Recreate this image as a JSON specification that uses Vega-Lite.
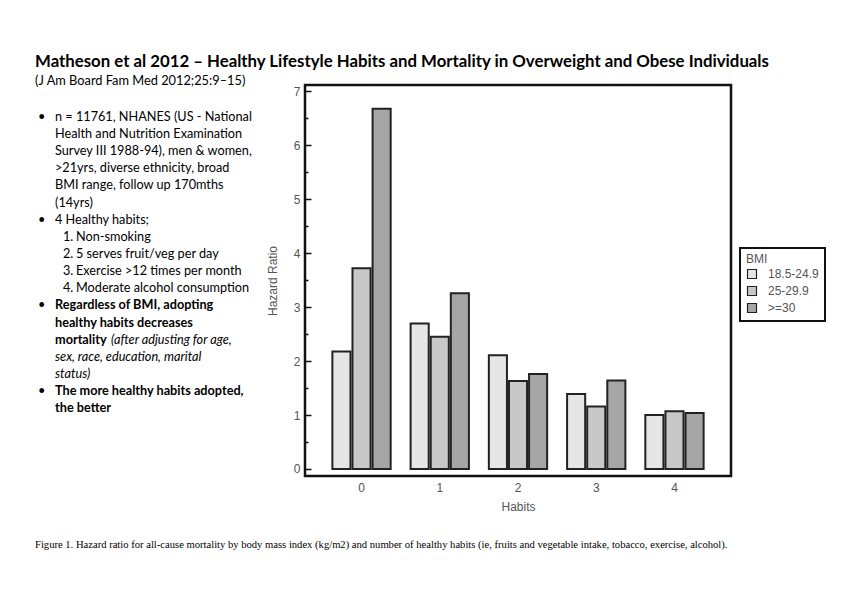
{
  "$schema": "https://vega.github.io/schema/vega-lite/v6.json",
  "background": "white",
  "padding": {"left": 35, "top": 54, "right": 5, "bottom": 5},
  "title": {
    "text": "Matheson et al 2012 – Healthy Lifestyle Habits and Mortality in Overweight and Obese Individuals",
    "subtitle": "(J Am Board Fam Med 2012;25:9–15)",
    "anchor": "start",
    "frame": "group",
    "font": "Lato",
    "fontSize": 16.8,
    "fontWeight": "bold",
    "color": "black",
    "subtitleFont": "Lato",
    "subtitleFontSize": 12.8,
    "subtitleColor": "black",
    "subtitlePadding": 4,
    "offset": -4
  },
  "config": {
    "view": {"stroke": "#111", "strokeWidth": 2.5},
    "axis": {"labelFont": "Liberation Sans", "titleFont": "Liberation Sans", "labelColor": "#555", "titleColor": "#555", "labelFontSize": 12, "titleFontSize": 12, "titleFontWeight": "normal", "grid": false},
    "legend": {"strokeWidth": 2},
    "concat": {"spacing": 0}
  },
  "vconcat": [
    {
      "title": {
        "text": "Figure 1. Hazard ratio for all-cause mortality by body mass index (kg/m2) and number of healthy habits (ie, fruits and vegetable intake, tobacco, exercise, alcohol).",
        "orient": "bottom",
        "anchor": "start",
        "font": "Liberation Serif",
        "fontSize": 10.6,
        "fontWeight": "normal",
        "color": "black",
        "offset": 27
      },
      "spacing": 0,
      "hconcat": [
        {
          "width": 230,
          "height": 391,
          "view": {"stroke": null},
          "data": {"values": [
            {"line": 1, "indent": 0.3, "kind": "normal", "text": "•"},
            {"line": 1, "indent": 2.0, "kind": "normal", "text": "n = 11761, NHANES (US - National"},
            {"line": 2, "indent": 2.0, "kind": "normal", "text": "Health and Nutrition Examination"},
            {"line": 3, "indent": 2.0, "kind": "normal", "text": "Survey III 1988-94), men & women,"},
            {"line": 4, "indent": 2.0, "kind": "normal", "text": ">21yrs, diverse ethnicity, broad"},
            {"line": 5, "indent": 2.0, "kind": "normal", "text": "BMI range, follow up 170mths"},
            {"line": 6, "indent": 2.0, "kind": "normal", "text": "(14yrs)"},
            {"line": 7, "indent": 0.3, "kind": "normal", "text": "•"},
            {"line": 7, "indent": 2.0, "kind": "normal", "text": "4 Healthy habits;"},
            {"line": 8, "indent": 2.8, "kind": "normal", "text": "1."},
            {"line": 8, "indent": 4.1, "kind": "normal", "text": "Non-smoking"},
            {"line": 9, "indent": 2.8, "kind": "normal", "text": "2."},
            {"line": 9, "indent": 4.1, "kind": "normal", "text": "5 serves fruit/veg per day"},
            {"line": 10, "indent": 2.8, "kind": "normal", "text": "3."},
            {"line": 10, "indent": 4.1, "kind": "normal", "text": "Exercise >12 times per month"},
            {"line": 11, "indent": 2.8, "kind": "normal", "text": "4."},
            {"line": 11, "indent": 4.1, "kind": "normal", "text": "Moderate alcohol consumption"},
            {"line": 12, "indent": 0.3, "kind": "normal", "text": "•"},
            {"line": 12, "indent": 2.0, "kind": "bold", "text": "Regardless of BMI, adopting"},
            {"line": 13, "indent": 2.0, "kind": "bold", "text": "healthy habits decreases"},
            {"line": 14, "indent": 2.0, "kind": "bold", "text": "mortality"},
            {"line": 14, "indent": 7.6, "kind": "italic", "text": "(after adjusting for age,"},
            {"line": 15, "indent": 2.0, "kind": "italic", "text": "sex, race, education, marital"},
            {"line": 16, "indent": 2.0, "kind": "italic", "text": "status)"},
            {"line": 17, "indent": 0.3, "kind": "normal", "text": "•"},
            {"line": 17, "indent": 2.0, "kind": "bold", "text": "The more healthy habits adopted,"},
            {"line": 18, "indent": 2.0, "kind": "bold", "text": "the better"}
          ]},
          "encoding": {
            "x": {"field": "indent", "type": "quantitative", "scale": {"domain": [0, 23], "nice": false, "zero": false}, "axis": null},
            "y": {"field": "line", "type": "quantitative", "scale": {"domain": [-0.85, 21.94], "nice": false, "zero": false, "reverse": true}, "axis": null},
            "text": {"field": "text", "type": "nominal"}
          },
          "layer": [
            {"transform": [{"filter": "datum.kind === 'normal'"}], "mark": {"type": "text", "align": "left", "baseline": "middle", "font": "Lato", "fontSize": 12.7, "color": "black"}},
            {"transform": [{"filter": "datum.kind === 'bold'"}], "mark": {"type": "text", "align": "left", "baseline": "middle", "font": "Lato", "fontSize": 12.7, "fontWeight": "bold", "color": "black"}},
            {"transform": [{"filter": "datum.kind === 'italic'"}], "mark": {"type": "text", "align": "left", "baseline": "middle", "font": "Lato", "fontSize": 12.7, "fontStyle": "italic", "color": "black"}}
          ]
        },
        {
          "width": 426,
          "height": 391,
          "data": {"values": [
            {"Habits": 0, "BMI": "18.5-24.9", "HR": 2.18},
            {"Habits": 0, "BMI": "25-29.9", "HR": 3.72},
            {"Habits": 0, "BMI": ">=30", "HR": 6.68},
            {"Habits": 1, "BMI": "18.5-24.9", "HR": 2.70},
            {"Habits": 1, "BMI": "25-29.9", "HR": 2.45},
            {"Habits": 1, "BMI": ">=30", "HR": 3.26},
            {"Habits": 2, "BMI": "18.5-24.9", "HR": 2.11},
            {"Habits": 2, "BMI": "25-29.9", "HR": 1.63},
            {"Habits": 2, "BMI": ">=30", "HR": 1.76},
            {"Habits": 3, "BMI": "18.5-24.9", "HR": 1.39},
            {"Habits": 3, "BMI": "25-29.9", "HR": 1.16},
            {"Habits": 3, "BMI": ">=30", "HR": 1.64},
            {"Habits": 4, "BMI": "18.5-24.9", "HR": 1.00},
            {"Habits": 4, "BMI": "25-29.9", "HR": 1.07},
            {"Habits": 4, "BMI": ">=30", "HR": 1.04}
          ]},
          "mark": {"type": "bar", "stroke": "#222", "strokeWidth": 2},
          "encoding": {
            "x": {"field": "Habits", "type": "ordinal", "scale": {"paddingInner": 0.255, "paddingOuter": 0.35},
                  "axis": {"labelAngle": 0, "ticks": false, "domain": false, "title": "Habits", "labelPadding": 6, "titlePadding": 8}},
            "xOffset": {"field": "BMI", "type": "nominal", "sort": ["18.5-24.9", "25-29.9", ">=30"], "scale": {"paddingInner": 0.1}},
            "y": {"field": "HR", "type": "quantitative", "scale": {"domain": [-0.13, 7.12], "nice": false, "zero": false},
                  "axis": {"title": "Hazard Ratio", "domain": false,
                           "values": [0, 0.5, 1, 1.5, 2, 2.5, 3, 3.5, 4, 4.5, 5, 5.5, 6, 6.5, 7],
                           "labelExpr": "datum.value % 1 === 0 ? format(datum.value, 'd') : ''",
                           "tickColor": "#111", "tickWidth": 1.5,
                           "tickSize": {"condition": {"test": "datum.value % 1 === 0", "value": -6}, "value": -3},
                           "labelPadding": 11, "titlePadding": 14}},
            "fill": {"field": "BMI", "type": "nominal", "sort": ["18.5-24.9", "25-29.9", ">=30"],
                     "scale": {"domain": ["18.5-24.9", "25-29.9", ">=30"], "range": ["#e6e6e6", "#c8c8c8", "#a6a6a6"]},
                     "legend": {"orient": "none", "legendX": 705, "legendY": 163, "title": "BMI",
                                "titleFont": "Liberation Sans", "titleFontWeight": "normal", "titleFontSize": 12, "titleColor": "#555",
                                "labelFont": "Liberation Sans", "labelFontSize": 12, "labelColor": "#555",
                                "symbolType": "square", "symbolSize": 81, "symbolStrokeColor": "#222", "symbolStrokeWidth": 1.2,
                                "strokeColor": "#111", "fillColor": "white", "padding": 6, "rowPadding": 3, "labelOffset": 10, "titlePadding": 2}}
          }
        }
      ]
    }
  ]
}
